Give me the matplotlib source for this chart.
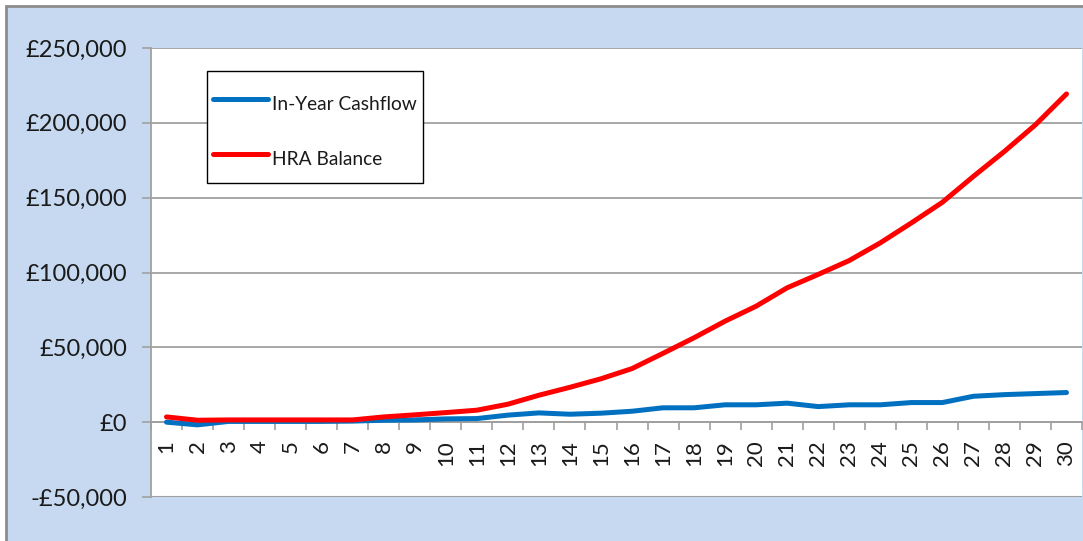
import matplotlib
matplotlib.use("Agg")
import matplotlib.pyplot as plt
from matplotlib.patches import Rectangle
from matplotlib.ticker import FuncFormatter, FixedLocator

plt.rcParams['font.family'] = ['Lato', 'DejaVu Sans']

years = list(range(1, 31))
cashflow = [0, -1800, 500, 500, 500, 500, 700, 1300, 1500, 2200,
            2400, 4700, 6200, 5300, 6000, 7300, 9600, 9600, 11600, 11600,
            12700, 10400, 11600, 11600, 13100, 13100, 17300, 18400, 19100, 19800]
balance = [3500, 1300, 1500, 1500, 1500, 1500, 1500, 3500, 4900, 6400,
           8000, 12000, 18000, 23300, 29000, 35800, 46000, 56400, 67500, 77500,
           89800, 98700, 108000, 119800, 133100, 146900, 164200, 180900, 198700, 219300]
series_names = ['In-Year Cashflow', 'HRA Balance']
series_colors = ['#0070C0', '#FF0000']
y_ticks = [-50000, 0, 50000, 100000, 150000, 200000, 250000]

W, H = 1083, 541
fig = plt.figure(figsize=(W / 100, H / 100), dpi=100, facecolor='white')

# chart-area background with border
bg = Rectangle((6 / W, -0.1), 1.2, (H - 6) / H + 0.1, transform=fig.transFigure,
               facecolor='#C6D9F0', edgecolor='#8C8C8C', linewidth=2, zorder=-5)
fig.patches.append(bg)

ax = fig.add_axes([151 / W, (H - 497) / H, (1082 - 151) / W, (497 - 48) / H])
ax.set_zorder(2)
ax.set_facecolor('white')

for vals, name, col in zip([cashflow, balance], series_names, series_colors):
    ax.plot(years, vals, color=col, linewidth=3.6, label=name,
            solid_capstyle='round', solid_joinstyle='round', zorder=3)

ax.set_xlim(0.5, 30.5)
ax.set_ylim(-50000, 250000)

ax.yaxis.set_major_locator(FixedLocator(y_ticks))


def fmt(v, pos):
    v = int(round(v))
    if v < 0:
        return '-£{:,}'.format(-v)
    return '£{:,}'.format(v)


ax.yaxis.set_major_formatter(FuncFormatter(fmt))
ax.grid(axis='y', color='#A0A0A0', linewidth=1.3, zorder=1)
ax.set_axisbelow(True)

ax.tick_params(axis='y', which='major', length=6.7, width=1.2, color='#A0A0A0',
               pad=10.5, labelsize=17, labelcolor='#1a1a1a')

ax.spines['bottom'].set_position(('data', 0))
for s in ['top', 'right']:
    ax.spines[s].set_visible(False)
ax.spines['left'].set_color('#A0A0A0')
ax.spines['left'].set_linewidth(1.3)
ax.spines['bottom'].set_color('#A0A0A0')
ax.spines['bottom'].set_linewidth(1.3)

ax.set_xticks(years)
ax.set_xticklabels([str(y) for y in years], rotation=90, fontsize=16,
                   color='#1a1a1a', va='top')
ax.set_xticks([y + 0.5 for y in [0] + years], minor=True)
ax.tick_params(axis='x', which='major', length=0, pad=13)
ax.tick_params(axis='x', which='minor', length=6, width=1.2, color='#A0A0A0')

ax.axhline(-50000, color='#A0A0A0', linewidth=1.5, zorder=1)

# legend frame drawn separately for exact placement
frame = Rectangle((207 / W, 1 - 183 / H), 216 / W, 112 / H,
                  transform=fig.transFigure, facecolor='white',
                  edgecolor='black', linewidth=1.0, zorder=4)
ax.add_artist(frame)

fs = 13.8
leg = ax.legend(loc='upper left', bbox_to_anchor=(206.5 / W, 1 - 81 / H),
                bbox_transform=fig.transFigure, borderaxespad=0,
                fontsize=fs, frameon=False, handlelength=2.9, handletextpad=0.2,
                borderpad=0.33, handleheight=2.3, labelspacing=1.15)
leg.set_zorder(5)
for t in leg.get_texts():
    t.set_color('#1a1a1a')

fig.savefig('out.png', dpi=100, facecolor='white')
